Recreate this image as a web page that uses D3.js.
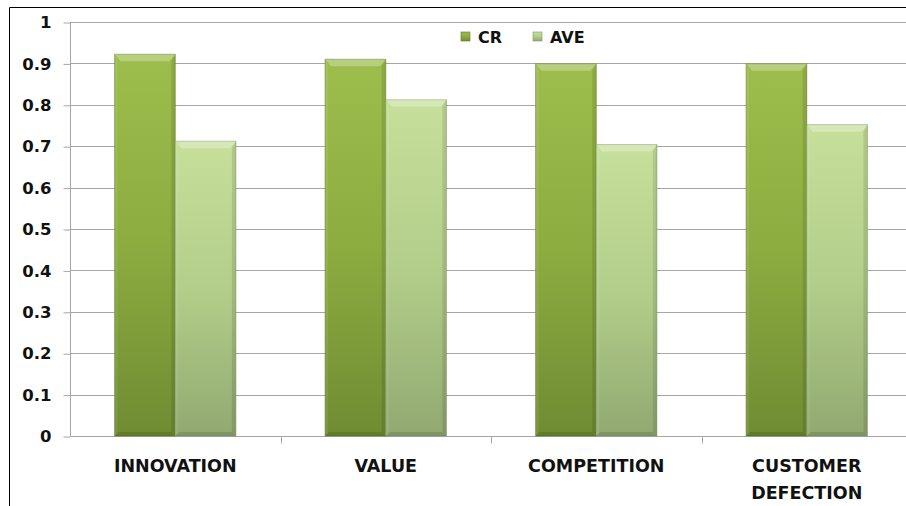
<!DOCTYPE html>
<html>
<head>
<meta charset="utf-8">
<script src="https://cdn.jsdelivr.net/npm/d3@7.9.0/dist/d3.min.js"></script>
<style>
  html, body { margin: 0; padding: 0; background: #fff; }
  svg { display: block; font-family: "DejaVu Sans", Verdana, sans-serif; font-weight: bold; }
</style>
</head>
<body>
<div id="chart"></div>
<script>
const categories = ['INNOVATION', 'VALUE', 'COMPETITION', 'CUSTOMER DEFECTION'];
const seriesNames = ['CR', 'AVE'];
const crValues = [0.922, 0.91, 0.899, 0.899];
const aveValues = [0.712, 0.812, 0.704, 0.752];
const yTicks = [0, 0.1, 0.2, 0.3, 0.4, 0.5, 0.6, 0.7, 0.8, 0.9, 1];
const labelLines = [['INNOVATION'], ['VALUE'], ['COMPETITION'], ['CUSTOMER', 'DEFECTION']];

const W = 906, H = 506;
const m = { left: 70, top: 22, right: -6, bottom: 70 };
const series = [
  { name: 'CR', values: crValues, top: '#9dbd4c', mid: '#8cac40', bot: '#6f8c32', edge: '#5f7a2a' },
  { name: 'AVE', values: aveValues, top: '#c6e09b', mid: '#b3ce8a', bot: '#91a971', edge: '#7f9762' }
];

const svg = d3.select('#chart').append('svg').attr('width', W).attr('height', H);
const defs = svg.append('defs');
series.forEach((s, i) => {
  const g = defs.append('linearGradient').attr('id', 'g' + i)
    .attr('x1', 0).attr('y1', 0).attr('x2', 0).attr('y2', 1);
  g.append('stop').attr('offset', '0%').attr('stop-color', s.top);
  g.append('stop').attr('offset', '50%').attr('stop-color', s.mid);
  g.append('stop').attr('offset', '100%').attr('stop-color', s.bot);
});

const x0 = d3.scaleBand().domain(categories).range([m.left, W - m.right]).paddingInner(0).paddingOuter(0);
const x1 = d3.scaleBand().domain(seriesNames).range([0, x0.bandwidth()]).paddingOuter(0.735);
const y = d3.scaleLinear().domain([0, 1]).range([H - m.bottom, m.top]);

// outer border (left + top)
svg.append('path').attr('d', `M9.5,${H} V7.5 H${W}`).attr('fill', 'none').attr('stroke', '#000').attr('stroke-width', 1);

// gridlines
svg.append('g').selectAll('line').data(yTicks.filter(t => t > 0)).join('line')
  .attr('x1', m.left).attr('x2', W)
  .attr('y1', d => Math.round(y(d)) + 0.5).attr('y2', d => Math.round(y(d)) + 0.5)
  .attr('stroke', '#a6a6a6');

// y axis
const yAxis = svg.append('g').attr('transform', `translate(${m.left + 0.5},0.5)`)
  .call(d3.axisLeft(y).tickValues(yTicks).tickFormat(d => d === 0 || d === 1 ? d3.format('d')(d) : d3.format('.1f')(d)).tickSize(7).tickPadding(12));
yAxis.select('.domain').attr('stroke', '#a6a6a6').attr('d', `M0,${y(1)}V${y(0)}`);
yAxis.selectAll('.tick line').attr('stroke', '#a6a6a6');
yAxis.selectAll('.tick text').attr('fill', '#111').style('font-size', '16.5px').style('font-family', '"DejaVu Sans", Verdana, sans-serif').style('font-weight', 'bold');

// x axis
const xAxis = svg.append('g').attr('transform', `translate(0.5,${Math.round(y(0)) + 0.5})`);
xAxis.append('line').attr('x1', m.left).attr('x2', W).attr('stroke', '#a6a6a6');
xAxis.selectAll('line.tk').data(categories.slice(1)).join('line').attr('class', 'tk')
  .attr('x1', d => Math.round(x0(d))).attr('x2', d => Math.round(x0(d)))
  .attr('y1', 0).attr('y2', 7).attr('stroke', '#a6a6a6');
categories.forEach((c, i) => {
  const t = svg.append('text').attr('x', x0(c) + x0.bandwidth() / 2).attr('y', 472)
    .attr('text-anchor', 'middle').attr('fill', '#111').style('font-size', '17.5px');
  labelLines[i].forEach((ln, k) => t.append('tspan').attr('x', x0(c) + x0.bandwidth() / 2).attr('dy', k ? 27 : 0).text(ln));
});

// bars
const bw = x1.bandwidth();
series.forEach((s, si) => {
  const g = svg.append('g');
  const bars = g.selectAll('g').data(categories.map((c, i) => ({ c, v: s.values[i] }))).join('g')
    .attr('transform', d => `translate(${x0(d.c) + x1(s.name)},${y(d.v)})`);
  const h = d => y(0) - y(d.v);
  bars.append('rect').attr('width', bw).attr('height', h).attr('fill', `url(#g${si})`)
    .attr('stroke', s.edge).attr('stroke-opacity', 0.55);
  // bevel: top highlight
  bars.append('path').attr('d', `M0,0 H${bw} L${bw - 6},7 H6 Z`).attr('fill', '#fff').attr('opacity', 0.28);
  // right shade
  bars.append('path').attr('d', d => `M${bw},0 V${h(d)} L${bw - 4},${h(d) - 4} V7 Z`).attr('fill', '#000').attr('opacity', 0.1);
  // left light
  bars.append('path').attr('d', d => `M0,0 V${h(d)} L3,${h(d) - 3} V7 Z`).attr('fill', '#fff').attr('opacity', 0.08);
  // bottom shade
  bars.append('path').attr('d', d => `M0,${h(d)} H${bw} L${bw - 4},${h(d) - 4} H4 Z`).attr('fill', '#000').attr('opacity', 0.12);
});

// legend
const legend = svg.append('g');
const legX = [461, 533];
series.forEach((s, i) => {
  legend.append('rect').attr('x', legX[i]).attr('y', 32).attr('width', 9).attr('height', 9)
    .attr('fill', `url(#g${i})`).attr('stroke', s.edge).attr('stroke-width', 0.6);
  legend.append('text').attr('x', legX[i] + 17).attr('y', 43).attr('fill', '#111')
    .style('font-size', '16px').text(s.name);
});
</script>
</body>
</html>
